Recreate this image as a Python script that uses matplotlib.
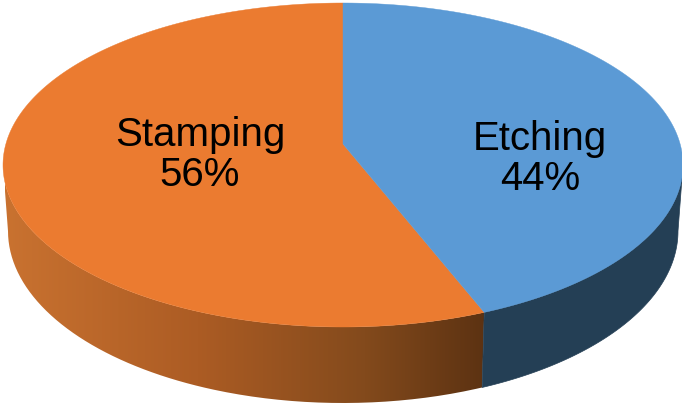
import matplotlib
matplotlib.use('Agg')
import matplotlib.pyplot as plt
import numpy as np
from matplotlib.colors import LinearSegmentedColormap
from matplotlib.patches import PathPatch
from matplotlib.path import Path

categories = ['Etching', 'Stamping']
shares = [44, 56]

plt.rcParams['font.family'] = ['Liberation Sans', 'DejaVu Sans']

W, H = 682, 403
CX = 343
TOP = (165, 340, 162)     # centre y, x radius, y radius of the upper face
BOTTOM = (231, 335, 172)  # same for the lower rim
APEX_Y = 144
PERSP = 0.877             # squeeze of the angles from the tilt


def warp(angle):
    # pie angle (clockwise from top) to parameter on the projected ellipse
    half = np.tan(angle / 2)
    t = 2 * np.arctan(PERSP * half)
    return t if t >= 0 else t + 2 * np.pi


def rim(ell, t0, t1, n=200):
    t = np.linspace(t0, t1, n)
    return np.column_stack([CX + ell[1] * np.sin(t), ell[0] - ell[2] * np.cos(t)])


def poly(points):
    return Path(np.vstack([points, points[:1]]))


fig = plt.figure(figsize=(W / 100, H / 100), dpi=100)
ax = fig.add_axes([0, 0, 1, 1])

seam = warp(2 * np.pi * shares[0] / sum(shares))

# side walls
right_wall = np.vstack([rim(TOP, np.pi / 2, seam), rim(BOTTOM, seam, np.pi / 2)])
ax.add_patch(PathPatch(poly(right_wall), fc='#243F55', ec='#243F55', lw=0.5))

left_wall = np.vstack([rim(TOP, seam, 3 * np.pi / 2), rim(BOTTOM, 3 * np.pi / 2, seam)])
wall_patch = PathPatch(poly(left_wall), fc='none', ec='none')
ax.add_patch(wall_patch)
wall_cmap = LinearSegmentedColormap.from_list(
    'wall', [(0.0, '#C97230'), (0.4, '#AC5C24'), (0.75, '#834A1C'), (1.0, '#5C3212')])
grad = ax.imshow(np.linspace(0, 1, 256)[None, :], cmap=wall_cmap, aspect='auto',
                 extent=[5, 486, H, 0], interpolation='bilinear')
grad.set_clip_path(wall_patch)

ax.set_xlim(0, W)
ax.set_ylim(H, 0)
ax.axis('off')

# upper face
blue = np.vstack([[[CX, APEX_Y]], rim(TOP, 0, seam)])
orange = np.vstack([[[CX, APEX_Y]], rim(TOP, seam, 2 * np.pi)])
ax.add_patch(PathPatch(poly(orange), fc='#EB7B30', ec='#EB7B30', lw=0.3))
ax.add_patch(PathPatch(poly(blue), fc='#5B9AD5', ec='#5B9AD5', lw=0.3))

ax.text(540, 159, f'{categories[0]}\n{shares[0]}%', ha='center', va='center',
        fontsize=29, color='black', linespacing=1.08)
ax.text(200, 155, f'{categories[1]}\n{shares[1]}%', ha='center', va='center',
        fontsize=29, color='black', linespacing=1.08)

fig.savefig('out.png', dpi=100)
